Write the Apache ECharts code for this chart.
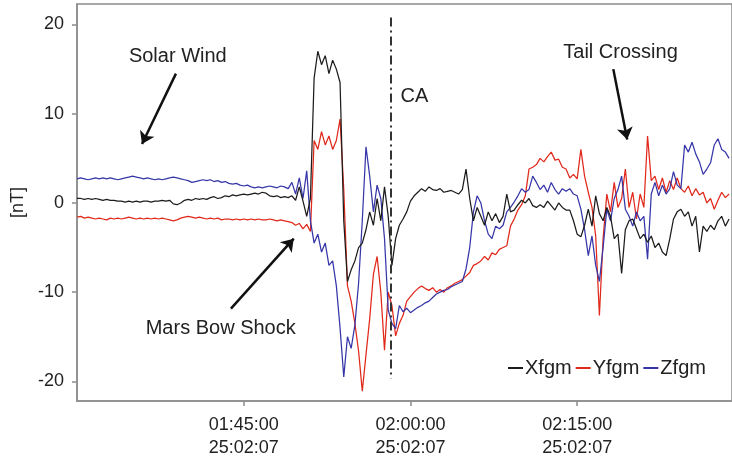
<!DOCTYPE html>
<html><head><meta charset="utf-8">
<script src="https://cdn.jsdelivr.net/npm/echarts@6/dist/echarts.min.js"></script>
<style>html,body{margin:0;padding:0;background:#fff}#c{width:732px;height:460px}</style>
</head><body><div id="c"></div>
<script>
// time axis in minutes after 00:00 (90 = 01:30:00), samples every 20 s
const startMin = 90;
const stepMin = 1 / 3;
const xTickValues = [105, 120, 135];
const xTickLabels = ['01:45:00\n25:02:07', '02:00:00\n25:02:07', '02:15:00\n25:02:07'];
const yTickValues = [-20, -10, 0, 10, 20];
const seriesNames = ['Xfgm', 'Yfgm', 'Zfgm'];

const xfgm = [
0.5,0.5,0.4,0.5,0.4,0.5,0.4,0.3,0.4,0.3,
0.3,0.2,0.2,0.1,0.2,0.1,0.2,0.1,0.2,0.2,
0.1,0.2,0.2,0.3,0.2,0.3,-0.1,-0.2,0.0,0.3,
0.4,0.3,0.5,0.4,0.5,0.4,0.6,0.7,0.5,0.6,
0.8,0.7,0.9,0.8,0.9,1.0,0.9,1.0,1.1,1.0,
1.2,1.1,0.8,0.7,0.8,0.6,0.7,0.6,0.8,0.3,
1.8,0.2,-1.5,0.5,14.0,17.0,15.5,16.5,14.5,16.0,
15.0,13.5,-2.0,-8.8,-7.5,-6.5,-5.0,-4.5,-3.0,-1.0,
-2.5,0.5,-2.0,1.8,-1.5,-7.0,-4.0,-2.5,-1.8,-1.0,
0.2,0.8,1.2,1.6,1.3,1.8,1.5,1.4,1.6,1.2,
1.3,1.4,1.2,1.0,1.5,3.8,0.5,-2.0,-0.5,-1.5,
-2.5,-1.0,-2.0,-1.2,-2.2,-1.5,1.0,-1.0,-0.8,-0.2,
0.3,0.0,0.5,-0.3,-0.5,-0.2,-0.5,0.2,-0.3,-0.8,
0.0,-0.5,-0.8,-0.8,-2.0,-3.5,-3.8,-2.5,-0.7,-2.6,
0.8,-1.2,-2.0,-0.5,-1.5,-4.0,-3.5,-7.9,-3.0,-2.0,
-1.8,-2.9,-4.0,-3.5,-4.4,-3.7,-5.0,-4.5,-5.5,-5.9,
-4.0,-1.8,-1.0,-0.7,-1.5,-1.0,-2.6,-1.5,-5.5,-2.6,
-3.2,-2.5,-3.0,-2.0,-1.5,-2.6,-1.8
];
const yfgm = [
-1.6,-1.5,-1.7,-1.6,-1.7,-1.8,-1.7,-1.8,-1.9,-1.7,
-1.8,-1.7,-1.8,-1.7,-1.6,-1.7,-1.8,-1.7,-1.8,-1.7,
-1.8,-1.7,-1.8,-1.7,-1.8,-1.9,-2.0,-1.9,-1.7,-1.6,
-1.5,-1.6,-1.7,-1.6,-1.7,-1.8,-1.7,-1.8,-1.7,-1.9,
-1.8,-1.8,-1.9,-1.8,-1.9,-1.8,-1.9,-1.8,-1.9,-1.8,
-1.9,-1.9,-1.8,-1.9,-2.0,-1.9,-2.0,-2.1,-2.2,-2.5,
-2.3,-2.9,-2.4,-3.2,7.0,6.0,8.0,6.5,7.5,6.0,
7.0,9.4,1.5,-9.3,-11.0,-13.5,-16.6,-21.1,-17.0,-13.0,
-8.0,-6.0,-10.0,-16.5,-10.0,-11.5,-14.9,-13.5,-12.6,-11.0,
-10.5,-10.0,-9.6,-9.3,-9.6,-9.8,-9.5,-10.0,-9.7,-10.0,
-9.5,-9.3,-9.0,-8.8,-8.6,-8.2,-7.8,-7.0,-6.8,-6.5,
-6.0,-6.4,-5.6,-5.8,-5.2,-5.0,-4.8,-2.6,-1.8,-0.8,
-0.2,0.8,3.8,4.0,4.3,5.0,4.6,5.2,5.7,4.8,
4.9,4.0,3.8,2.8,3.2,2.7,6.0,3.0,1.2,-0.5,
-3.7,-12.6,-4.0,1.0,-1.0,2.3,-0.5,0.5,3.8,-0.5,
1.2,-1.8,1.0,-0.5,7.5,2.5,3.0,1.5,2.8,1.2,
2.5,1.5,2.8,1.6,1.2,1.9,0.8,1.6,0.9,1.2,
0.0,0.5,-0.7,0.3,1.2,0.6,1.0
];
const zfgm = [
2.7,2.8,2.7,2.6,2.7,2.8,2.7,2.8,2.7,2.8,
2.7,2.6,2.7,2.8,2.9,3.0,2.9,2.8,2.7,2.8,
2.7,2.6,2.7,2.6,2.7,2.8,2.9,2.8,2.7,2.6,
2.5,2.3,2.4,2.5,2.6,2.5,2.6,2.4,2.5,2.3,
2.4,2.2,2.1,2.2,2.0,1.9,2.0,1.8,1.7,1.8,
1.7,1.8,1.9,1.8,1.7,1.9,1.8,1.6,2.3,1.0,
2.8,0.5,3.6,-2.0,-4.5,-3.5,-5.5,-4.5,-7.0,-6.5,
-9.3,-14.0,-19.5,-15.0,-16.3,-13.7,-9.0,-2.0,6.3,3.0,
-1.0,2.0,0.5,-4.0,-12.0,-13.5,-14.1,-11.5,-12.2,-11.8,
-12.3,-12.0,-11.7,-11.5,-11.2,-11.0,-10.6,-10.2,-10.0,-9.8,
-9.7,-9.4,-9.2,-9.0,-8.8,-7.4,-5.0,-1.0,0.8,0.0,
-2.0,-3.5,-4.0,-2.6,-2.9,-2.5,-1.0,-0.5,0.1,0.8,
1.6,1.2,1.5,3.0,2.3,1.5,2.0,1.2,2.3,1.5,
1.0,1.6,1.3,1.6,1.0,0.8,-0.7,-3.0,-5.9,-3.7,
-7.0,-8.8,-5.0,-0.7,-2.0,0.5,1.5,3.0,-0.7,-1.5,
-2.6,-1.0,-2.0,-1.5,-6.3,1.0,2.3,0.8,2.0,1.0,
1.6,3.5,2.0,1.6,6.5,5.7,6.8,5.5,4.6,3.2,
3.8,4.5,6.5,7.2,6.0,5.7,5.0
];

// annotations (data coordinates: [minutes, nT])
const caTime = 118.2;
const arrows = [
  [[98.9, 14.5], [95.85, 6.6]],
  [[103.85, -11.85], [109.5, -4.0]],
  [[138.25, 15.0], [139.5, 7.1]]
];
const texts = [
  { name: 'Solar Wind', at: [99.07, 16.42] },
  { name: 'Mars Bow Shock', at: [102.93, -14.08] },
  { name: 'CA', at: [120.36, 11.96] },
  { name: 'Tail Crossing', at: [138.9, 16.9] }
];

const colors = ['#1c1c1c', '#e0291b', '#3636a8'];
const FONT = '"Liberation Sans", Arial, Helvetica, sans-serif';
const axisGray = '#8c8c8c';

const toPairs = arr => arr.map((v, i) => [startMin + i * stepMin, v]);

const chart = echarts.init(document.getElementById('c'), null, { renderer: 'canvas' });

const markLineData = arrows.map(a => [{ coord: a[0], symbol: 'none' }, { coord: a[1], symbol: 'arrow' }]);
markLineData.push([
  { coord: [caTime, 20.8], symbol: 'none', lineStyle: { color: '#333', width: 2, type: [9, 4, 2, 4] } },
  { coord: [caTime, -19.7], symbol: 'none' }
]);

const series = [xfgm, yfgm, zfgm].map((arr, k) => ({
  name: seriesNames[k],
  type: 'line',
  data: toPairs(arr),
  showSymbol: false,
  symbol: 'none',
  lineStyle: { width: 1.25, color: colors[k] },
  itemStyle: { color: colors[k] },
  z: k === 0 ? 4 : 3,
  animation: false
}));

series[0].markLine = {
  silent: true,
  animation: false,
  symbolSize: 12,
  label: { show: false },
  emphasis: { disabled: true },
  lineStyle: { color: '#111', width: 2.5, type: 'solid' },
  itemStyle: { color: '#111' },
  data: markLineData
};
series[0].markPoint = {
  silent: true,
  animation: false,
  symbol: 'circle',
  symbolSize: 1,
  itemStyle: { color: 'rgba(0,0,0,0)' },
  label: { show: true, position: 'inside', color: '#222', fontSize: 20, fontFamily: FONT },
  data: texts.map(t => ({ coord: t.at, label: { formatter: t.name } }))
};

chart.setOption({
  animation: false,
  backgroundColor: '#fff',
  textStyle: { fontFamily: FONT },
  grid: { left: 77, right: -2, top: 4, bottom: 57, show: true, borderColor: axisGray, borderWidth: 1.5 },
  legend: {
    data: seriesNames,
    left: 503, top: 353,
    icon: 'rect', itemWidth: 15, itemHeight: 2, itemGap: 4,
    textStyle: { fontSize: 20, color: '#222', fontFamily: FONT, padding: [0, 0, 0, -3] }
  },
  xAxis: {
    type: 'value', min: 90, max: 148.93,
    axisLine: { show: true, onZero: false, lineStyle: { color: axisGray, width: 1.5 } },
    axisTick: { show: true, customValues: xTickValues, length: 5, lineStyle: { color: axisGray, width: 1.5 } },
    axisLabel: {
      customValues: xTickValues,
      formatter: v => xTickLabels[xTickValues.indexOf(v)] || '',
      fontSize: 18, color: '#222', lineHeight: 23, margin: 13, fontFamily: FONT
    },
    splitLine: { show: false }
  },
  yAxis: {
    type: 'value', min: -22.2, max: 22.3,
    name: '[nT]', nameLocation: 'middle', nameGap: 50, nameRotate: 90,
    nameTextStyle: { fontSize: 18, color: '#222', fontFamily: FONT },
    axisLine: { show: true, onZero: false, lineStyle: { color: axisGray, width: 1.5 } },
    axisTick: { show: true, customValues: yTickValues, length: 5, lineStyle: { color: axisGray, width: 1.5 } },
    axisLabel: { customValues: yTickValues, fontSize: 18, color: '#222', margin: 13, fontFamily: FONT },
    splitLine: { show: false }
  },
  series: series
});
</script>
</body></html>
